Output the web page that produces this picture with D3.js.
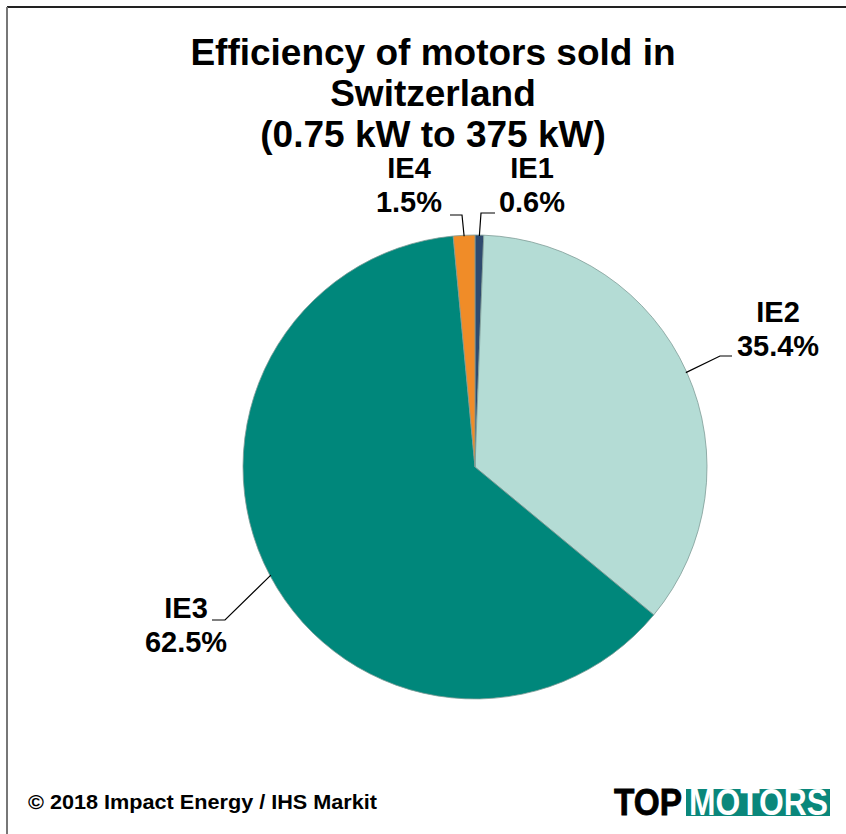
<!DOCTYPE html>
<html>
<head>
<meta charset="utf-8">
<script src="https://cdn.jsdelivr.net/npm/d3@7"></script>
<style>
  html, body { margin: 0; padding: 0; background: #fff; }
  svg { display: block; font-family: "Liberation Sans", Arial, sans-serif; }
</style>
</head>
<body>
<script>
var categories = ['IE1', 'IE2', 'IE3', 'IE4'];
var shares = [0.6, 35.4, 62.5, 1.5];
var sliceColors = ['#2f4a6e', '#b4dcd5', '#00877b', '#f08c28'];
var titleLines = ['Efficiency of motors sold in', 'Switzerland', '(0.75 kW to 375 kW)'];
var footnote = '\u00a9 2018 Impact Energy / IHS Markit';

var w = 846, h = 834;
var cx = 475, cy = 467, r = 232;

// label layout: elbow and text anchor for each category
var labelPos = {
  IE1: { elbow: [481, 213], end: [495, 213], tx: 532, ty: 178 },
  IE4: { elbow: [462, 215], end: [450, 215], tx: 409, ty: 178 },
  IE2: { elbow: [720, 356], end: [732, 356], tx: 778, ty: 322 },
  IE3: { elbow: [225, 620], end: [212, 620], tx: 186, ty: 618 }
};

var data = categories.map((c, i) => ({ name: c, value: shares[i], color: sliceColors[i] }));

var svg = d3.select('body').append('svg')
  .attr('width', w)
  .attr('height', h);

// frame
svg.append('line').attr('x1', 7).attr('y1', 7).attr('x2', w).attr('y2', 7)
  .attr('stroke', '#222').attr('stroke-width', 2);
svg.append('line').attr('x1', 7).attr('y1', 7).attr('x2', 7).attr('y2', h)
  .attr('stroke', '#777').attr('stroke-width', 2);

// title
svg.append('text')
  .attr('text-anchor', 'middle')
  .attr('font-weight', 'bold')
  .attr('font-size', 37)
  .attr('fill', '#000')
  .selectAll('tspan')
  .data(titleLines)
  .join('tspan')
    .attr('x', 433)
    .attr('y', (d, i) => 65 + i * 41)
    .text(d => d);

var pie = d3.pie().sort(null).value(d => d.value);
var arc = d3.arc().innerRadius(0).outerRadius(r);
var arcs = pie(data);

var g = svg.append('g').attr('transform', 'translate(' + cx + ',' + cy + ')');

g.selectAll('path')
  .data(arcs)
  .join('path')
    .attr('d', arc)
    .attr('fill', d => d.data.color)
    .attr('stroke', '#7f9c97')
    .attr('stroke-width', 0.8);

// leader lines + labels
var lab = svg.append('g');
arcs.forEach(d => {
  var p = labelPos[d.data.name];
  var a = (d.startAngle + d.endAngle) / 2;
  var sx = cx + (r - 1) * Math.sin(a);
  var sy = cy - (r - 1) * Math.cos(a);
  lab.append('polyline')
    .attr('points', [[sx, sy], p.elbow, p.end].map(q => q.join(',')).join(' '))
    .attr('fill', 'none')
    .attr('stroke', '#000')
    .attr('stroke-width', 1.2);

  var t = lab.append('text')
    .attr('text-anchor', 'middle')
    .attr('font-weight', 'bold')
    .attr('font-size', 29)
    .attr('fill', '#000');
  t.append('tspan').attr('x', p.tx).attr('y', p.ty).text(d.data.name);
  t.append('tspan').attr('x', p.tx).attr('y', p.ty + 34).text(d3.format('.1f')(d.data.value) + '%');
});

// footnote
svg.append('text')
  .attr('x', 28)
  .attr('y', 809)
  .attr('font-weight', 'bold')
  .attr('font-size', 20)
  .attr('textLength', 349)
  .attr('lengthAdjust', 'spacingAndGlyphs')
  .text(footnote);

// logo
var logo = svg.append('g');
logo.append('text')
  .attr('x', 614).attr('y', 815)
  .attr('font-weight', 'bold')
  .attr('font-size', 36)
  .attr('textLength', 68)
  .attr('lengthAdjust', 'spacingAndGlyphs')
  .attr('stroke', '#000')
  .attr('stroke-width', 0.8)
  .attr('fill', '#000')
  .text('TOP');
logo.append('rect')
  .attr('x', 686).attr('y', 789)
  .attr('width', 144).attr('height', 27)
  .attr('fill', '#0a877b');
logo.append('text')
  .attr('x', 689).attr('y', 815)
  .attr('font-weight', 'bold')
  .attr('font-size', 36)
  .attr('textLength', 139)
  .attr('lengthAdjust', 'spacingAndGlyphs')
  .attr('fill', '#fff')
  .text('MOTORS');
</script>
</body>
</html>
